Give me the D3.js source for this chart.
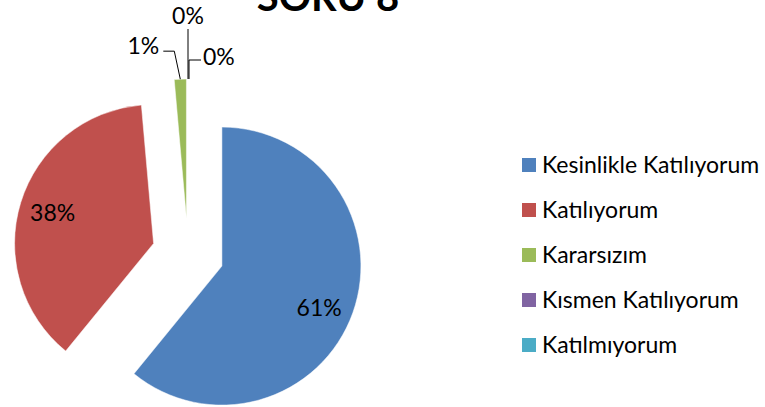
<!DOCTYPE html>
<html>
<head>
<meta charset="utf-8">
<script src="https://cdn.jsdelivr.net/npm/d3@7"></script>
<style>
  body { margin: 0; background: #fff; }
  text { font-family: Lato, "Open Sans", sans-serif; fill: #000; }
</style>
</head>
<body>
<div id="chart"></div>
<script>
var width = 765,
    height = 407;

// chart data (percent of answers)
var categories = ["Kesinlikle Katılıyorum", "Katılıyorum", "Kararsızım", "Kısmen Katılıyorum", "Katılmıyorum"];
var values = [60.9, 37.7, 1.4, 0, 0];
var colors = ["#4F81BD", "#C0504D", "#9BBB59", "#8064A2", "#4BACC6"];
var title = "SORU 8";

var cx = 188,
    cy = 254,
    radius = 139,
    explode = 36;

var svg = d3.select("#chart")
    .append("svg")
    .attr("width", width)
    .attr("height", height);

var pie = d3.pie()
    .sort(null)
    .value(d => d);

var arcs = pie(values);

var arc = d3.arc()
    .innerRadius(0)
    .outerRadius(radius);

function mid(d) {
    return (d.startAngle + d.endAngle) / 2;
}

// offset of each exploded slice
function shift(d, r, a) {
    a = a === undefined ? mid(d) : a;
    return [Math.sin(a) * r, -Math.cos(a) * r];
}

var g = svg.append("g")
    .attr("transform", `translate(${cx}, ${cy})`);

g.selectAll("path")
    .data(arcs)
    .enter()
    .append("path")
    .attr("d", arc)
    .attr("transform", d => {
        var s = shift(d, explode);
        return `translate(${s[0]}, ${s[1]})`;
    })
    .style("fill", (d, i) => colors[i])
    .style("stroke", "#fff")
    .style("stroke-width", 0.5);

var fmt = v => Math.round(v) + "%";

// inside labels for the big slices
g.selectAll("text.inside")
    .data(arcs.filter(d => d.value >= 5))
    .enter()
    .append("text")
    .attr("class", "inside")
    .attr("x", d => shift(d, explode)[0] + shift(d, radius * 0.76, mid(d) + (d.index == 0 ? 0.06 : 0))[0])
    .attr("y", d => shift(d, explode)[1] + shift(d, radius * 0.76, mid(d) + (d.index == 0 ? 0.06 : 0))[1])
    .attr("text-anchor", "middle")
    .attr("dy", "0.36em")
    .style("font-size", "23px")
    .text(d => fmt(d.value));

// outside labels with leader lines (label offset, path bends relative to the outer point)
var leaders = {
    2: { label: [-37, -33], anchor: "middle", line: [[-17, -28], [-6, -28], [0, 0]] },
    3: { label: [0, -63], anchor: "middle", line: [[0, -50], [0, 0]] },
    4: { label: [15, -22], anchor: "start", line: [[13, -19], [1, -19], [1, 0]] }
};

arcs.forEach(function (d, i) {
    if (!leaders[i]) return;
    var o = shift(d, explode),
        p = shift(d, radius),
        ox = o[0] + p[0],
        oy = o[1] + p[1],
        L = leaders[i];

    g.append("path")
        .attr("d", d3.line()(L.line.map(q => [ox + q[0], oy + q[1]])))
        .style("fill", "none")
        .style("stroke", "#000")
        .style("stroke-width", 1);

    g.append("text")
        .attr("x", ox + L.label[0])
        .attr("y", oy + L.label[1])
        .attr("text-anchor", L.anchor)
        .attr("dy", "0.36em")
        .style("font-size", "23px")
        .text(fmt(d.value));
});

svg.append("text")
    .attr("x", 328)
    .attr("y", 11)
    .attr("text-anchor", "middle")
    .style("font-size", "40px")
    .style("font-weight", "bold")
    .text(title);

var legend = svg.append("g")
    .attr("transform", "translate(522, 165)");

var item = legend.selectAll("g")
    .data(categories)
    .enter()
    .append("g")
    .attr("transform", (d, i) => `translate(0, ${i * 45})`);

item.append("rect")
    .attr("x", 0)
    .attr("y", -7)
    .attr("width", 14)
    .attr("height", 14)
    .style("fill", (d, i) => colors[i]);

item.append("text")
    .attr("x", 20)
    .attr("dy", "0.36em")
    .style("font-size", "23px")
    .text(d => d);
</script>
</body>
</html>
